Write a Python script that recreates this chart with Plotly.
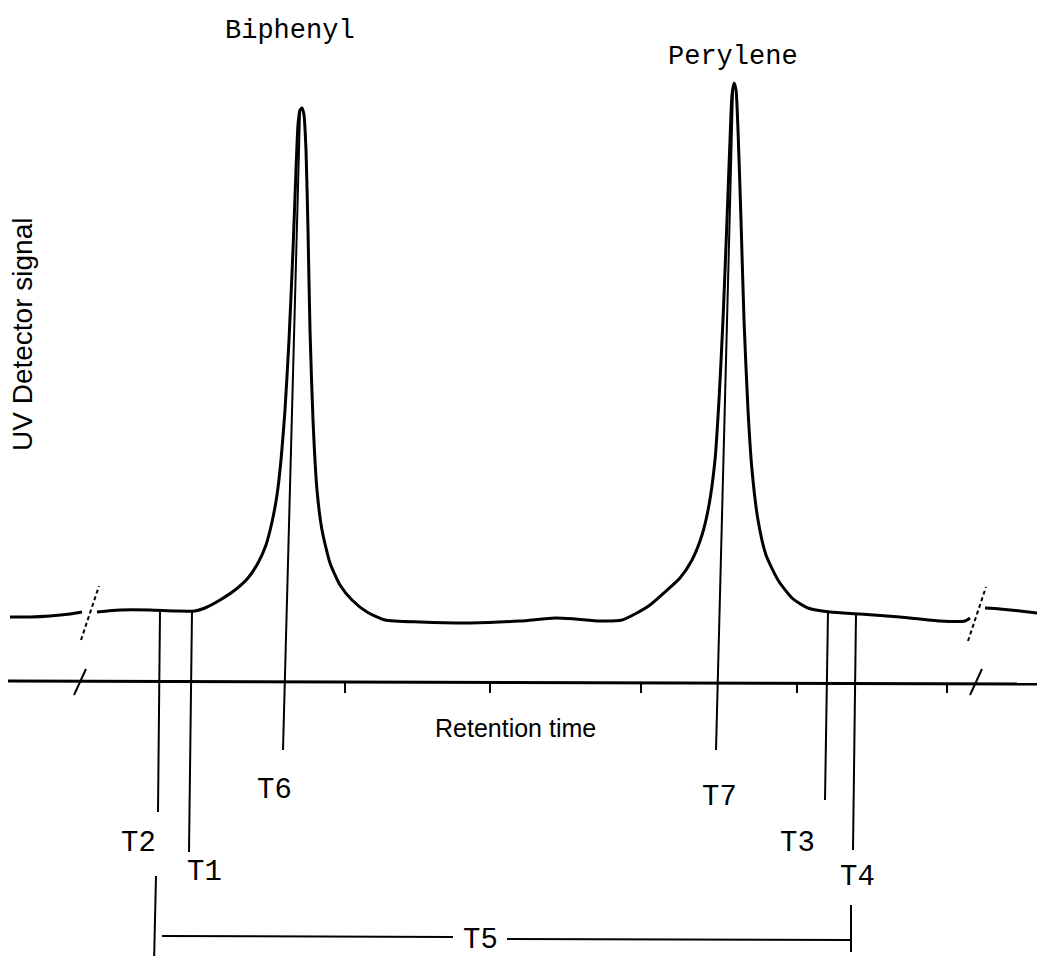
import plotly.graph_objects as go

# ---- data (retention time units, signal units; axis baseline at signal 0) ----
seg_a_time = [10, 30, 50, 70, 82]
seg_a_signal = [65, 65, 66, 68, 70]

seg_b_time = [97, 120, 150, 175, 195, 205, 220, 235, 248, 258, 266, 272, 277, 281, 285, 289, 293, 296,
              298, 300, 302, 304, 306, 308, 310, 313, 317, 322, 330, 340, 352, 367, 385, 420, 470, 520,
              555, 575, 600, 622, 635, 650, 665, 680, 692, 702, 709, 715, 719, 723, 727, 730, 732, 734,
              736, 738, 741, 744, 748, 752, 758, 766, 778, 792, 808, 830, 860, 900, 940, 965, 970]
seg_b_signal = [70, 72, 72, 71, 71, 74, 82, 92, 104, 119, 137, 160, 187, 222, 272, 342, 432, 512,
                557, 572, 574, 567, 532, 452, 352, 262, 192, 152, 119, 97, 82, 70, 62, 60, 59, 61,
                64, 63, 61, 62, 68, 77, 90, 104, 122, 147, 177, 222, 282, 362, 462, 542, 587, 599,
                592, 552, 462, 362, 272, 212, 162, 127, 102, 84, 74, 70, 68, 65, 61, 61, 64]

seg_c_time = [985, 1000, 1020, 1045]
seg_c_signal = [74, 73, 71, 68]

axis_time = [8, 1045]
axis_signal = [1, -2]

tick_times = [345, 490, 641, 797, 947]

# marker lines: name, top (time, signal), bottom (time, signal)
marker_names = ["T2", "T1", "T6", "T7", "T3", "T4"]
marker_top_time = [160, 192, 300, 733, 828, 856]
marker_top_signal = [70, 71, 570, 594, 70, 68]
marker_bot_time = [158, 189, 283, 716, 825, 853]
marker_bot_signal = [-130, -170, -68, -68, -118, -168]

label_time = [138, 204, 274, 719, 797, 857]
label_signal = [-161, -190, -108, -115, -161, -195]

# T5 span
t5_left_time = [156, 154]
t5_left_signal = [-194, -282]
t5_right_time = [851, 851]
t5_right_signal = [-223, -270]
t5_span_left = [162, 453]
t5_span_right = [507, 850]
t5_span_signal_l = [-254, -255]
t5_span_signal_r = [-257, -258]

peak_names = ["Biphenyl", "Perylene"]
peak_label_time = [290, 733]
peak_label_signal = [651, 625]

# break marks
curve_break_time = [90, 977]
curve_break_level = [69, 68]
axis_break_time = [80, 976]
break_curve_half = 27
break_axis_half = 13

# ---- figure ----
fig = go.Figure()
line_main = dict(color="black", width=3)
line_thin = dict(color="black", width=2)

for t, s in [(seg_a_time, seg_a_signal), (seg_b_time, seg_b_signal), (seg_c_time, seg_c_signal)]:
    fig.add_trace(go.Scatter(x=t, y=s, mode="lines",
                             line=dict(color="black", width=3, shape="spline", smoothing=0.6)))

fig.add_trace(go.Scatter(x=axis_time, y=axis_signal, mode="lines", line=line_main))

for tt in tick_times:
    fig.add_trace(go.Scatter(x=[tt, tt], y=[-1, -11], mode="lines", line=line_thin))

for i in range(len(marker_names)):
    fig.add_trace(go.Scatter(x=[marker_top_time[i], marker_bot_time[i]],
                             y=[marker_top_signal[i], marker_bot_signal[i]],
                             mode="lines", line=line_thin))

fig.add_trace(go.Scatter(x=t5_left_time, y=t5_left_signal, mode="lines", line=line_thin))
fig.add_trace(go.Scatter(x=t5_right_time, y=t5_right_signal, mode="lines", line=line_thin))
fig.add_trace(go.Scatter(x=t5_span_left, y=t5_span_signal_l, mode="lines", line=line_thin))
fig.add_trace(go.Scatter(x=t5_span_right, y=t5_span_signal_r, mode="lines", line=line_thin))

# break slashes (curve and axis)
for bt, lvl in zip(curve_break_time, curve_break_level):
    fig.add_trace(go.Scatter(x=[bt - 9, bt + 9], y=[lvl - break_curve_half, lvl + break_curve_half],
                             mode="lines", line=dict(color="black", width=2, dash="4px,3px")))
for bt in axis_break_time:
    fig.add_trace(go.Scatter(x=[bt - 6, bt + 6], y=[-break_axis_half, break_axis_half],
                             mode="lines", line=dict(color="black", width=2)))

mono = "Liberation Mono, DejaVu Sans Mono, monospace"
sans = "Liberation Sans, Arial, sans-serif"
annotations = []
for n, t, s in zip(peak_names, peak_label_time, peak_label_signal):
    annotations.append(dict(x=t, y=s, text=n, showarrow=False, font=dict(family=mono, size=27, color="black")))
for n, t, s in zip(marker_names, label_time, label_signal):
    annotations.append(dict(x=t, y=s, text=n, showarrow=False, font=dict(family=mono, size=29, color="black")))
annotations.append(dict(x=480, y=-258, text="T5", showarrow=False,
                        font=dict(family=mono, size=29, color="black")))
annotations.append(dict(x=515, y=-46, text="Retention time", showarrow=False,
                        font=dict(family=sans, size=25, color="black")))
annotations.append(dict(x=22, y=347, text="UV Detector signal", showarrow=False, textangle=-90,
                        font=dict(family=sans, size=28, color="black")))

# page body has an 8px margin: shrink the figure and shift the ranges so that
# retention-time / signal units keep lining up with the reference picture
fig.update_layout(
    width=1029, height=948,
    margin=dict(l=0, r=0, t=0, b=0),
    paper_bgcolor="white", plot_bgcolor="white",
    showlegend=False,
    annotations=annotations,
    xaxis=dict(range=[8, 1037], visible=False, fixedrange=True),
    yaxis=dict(range=[-274, 674], visible=False, fixedrange=True),
)

fig.write_html("out.html")
